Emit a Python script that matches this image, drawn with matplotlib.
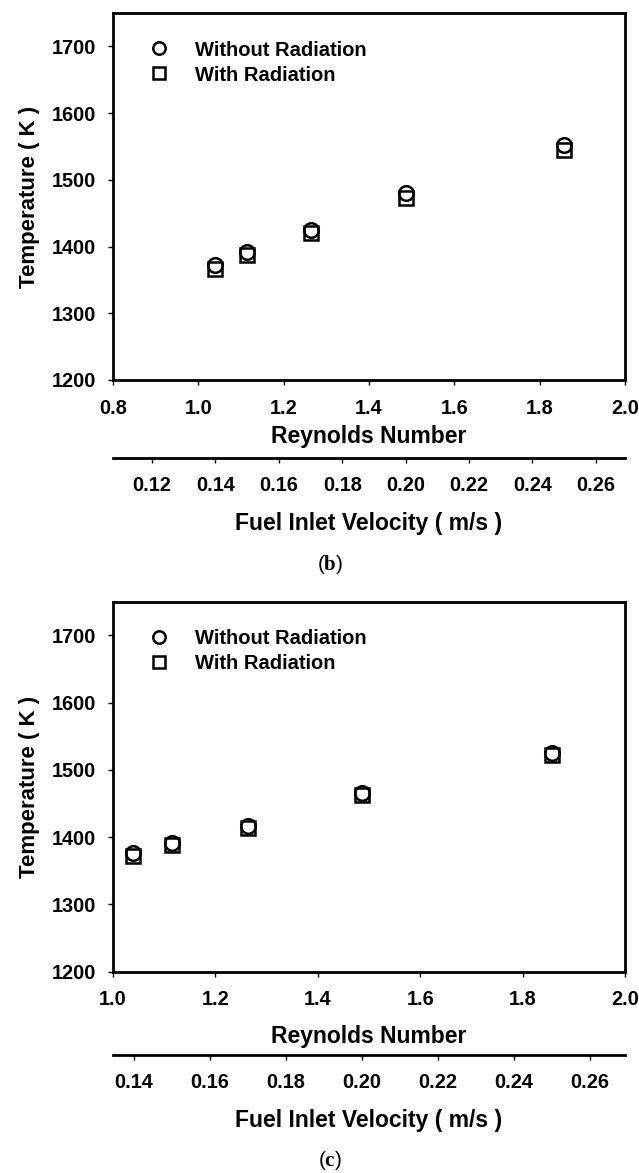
import matplotlib
matplotlib.use("Agg")
import matplotlib.pyplot as plt

plt.rcParams['font.family'] = ['Liberation Sans', 'DejaVu Sans']
plt.rcParams['font.weight'] = 'bold'
plt.rcParams['mathtext.fontset'] = 'custom'
plt.rcParams['mathtext.rm'] = 'Liberation Serif'
plt.rcParams['mathtext.bf'] = 'Liberation Serif:bold'

# Reynolds number (x10^3) of the five runs, shared by both panels
reynolds = [1.04, 1.115, 1.263, 1.486, 1.858]

# Flame temperature (K), panel (b)
temp_b_without = [1373, 1392, 1425, 1480, 1552]
temp_b_with = [1367, 1387, 1420, 1473, 1544]

# Flame temperature (K), panel (c)
temp_c_without = [1376, 1392, 1417, 1466, 1525]
temp_c_with = [1372, 1388, 1413, 1463, 1522]

# Re per unit fuel inlet velocity (m/s)
RE_PER_VELOCITY = 7.43

y_ticks = [1200, 1300, 1400, 1500, 1600, 1700]
re_ticks_b = [0.8, 1.0, 1.2, 1.4, 1.6, 1.8, 2.0]
re_ticks_c = [1.0, 1.2, 1.4, 1.6, 1.8, 2.0]
vel_ticks_b = [0.12, 0.14, 0.16, 0.18, 0.20, 0.22, 0.24, 0.26]
vel_ticks_c = [0.14, 0.16, 0.18, 0.20, 0.22, 0.24, 0.26]

W, H = 639, 1173
fig = plt.figure(figsize=(W / 100, H / 100), dpi=100)


def draw_panel(top_px, bottom_px, re_ticks, vel_ticks, t_without, t_with,
               re_label_px, vel_line_px, tag, tag_px):
    left_px, right_px = 113, 625
    ax = fig.add_axes([left_px / W, 1 - bottom_px / H,
                       (right_px - left_px) / W, (bottom_px - top_px) / H])
    h = bottom_px - top_px

    ax.plot(reynolds, t_with, linestyle='none', marker='s', markersize=9.5,
            markerfacecolor='none', markeredgecolor='black', markeredgewidth=1.8,
            label='With Radiation', zorder=3)
    ax.plot(reynolds, t_without, linestyle='none', marker='o', markersize=10.5,
            markerfacecolor='none', markeredgecolor='black', markeredgewidth=1.8,
            label='Without Radiation', zorder=4)

    ax.set_xlim(re_ticks[0], re_ticks[-1])
    ax.set_ylim(1200, 1750)
    ax.set_xticks(re_ticks)
    ax.set_xticklabels([f'{v:.1f}' for v in re_ticks])
    ax.set_yticks(y_ticks)
    for s in ax.spines.values():
        s.set_linewidth(2)
    ax.tick_params(direction='out', length=3.5, width=1, labelsize=14.3, pad=10)
    ax.tick_params(axis='y', pad=8.5)
    ax.tick_params(top=False, right=False)

    ax.set_ylabel('Temperature ( K )', fontsize=16, fontweight='bold')
    ax.yaxis.set_label_coords(-0.143, 0.5)
    ax.set_xlabel('Reynolds Number', fontsize=16.5, fontweight='bold', va='center')
    ax.xaxis.set_label_coords(0.5, (bottom_px - re_label_px) / h)

    handles, labels = ax.get_legend_handles_labels()
    ax.legend(handles[::-1], labels[::-1], loc='upper left', frameon=False,
              fontsize=14.5, handlelength=1.0, handletextpad=1.25,
              labelspacing=0.3, borderaxespad=0.0, markerscale=0.85,
              bbox_to_anchor=(0.055, 0.947))

    # velocity scale below the Reynolds axis
    sec = ax.secondary_xaxis((bottom_px - vel_line_px) / h,
                             functions=(lambda re: re / RE_PER_VELOCITY,
                                        lambda v: v * RE_PER_VELOCITY))
    sec.set_xticks(vel_ticks)
    sec.set_xticklabels([f'{v:.2f}' for v in vel_ticks])
    sec.spines['bottom'].set_linewidth(2)
    sec.tick_params(direction='out', length=3.5, width=1, labelsize=14.3, pad=9.5)
    sec.set_xlabel('Fuel Inlet Velocity ( m/s )', fontsize=16.5, fontweight='bold',
                   labelpad=12.5)

    fig.text(330 / W, 1 - tag_px / H, r'($\mathbf{' + tag + '}$)',
             fontsize=15, ha='center', va='center', fontweight='normal')


draw_panel(13, 380, re_ticks_b, vel_ticks_b, temp_b_without, temp_b_with,
           437, 457.7, 'b', 565)
draw_panel(601.7, 971.7, re_ticks_c, vel_ticks_c, temp_c_without, temp_c_with,
           1037, 1055, 'c', 1160)

fig.savefig('out.png', dpi=100)
